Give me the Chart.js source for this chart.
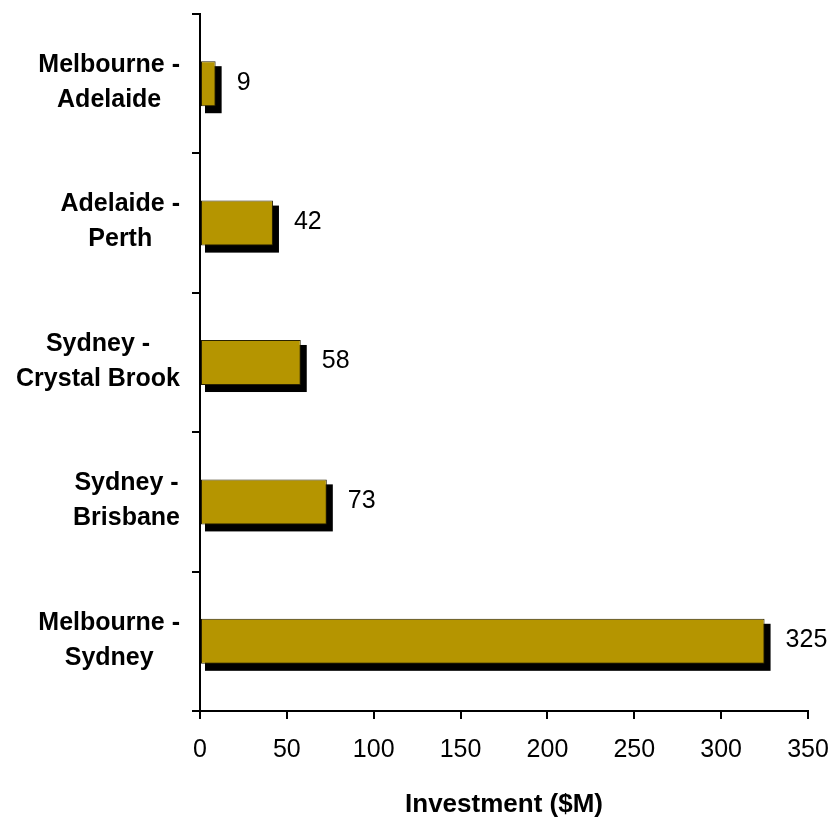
<!DOCTYPE html>
<html>
<head>
<meta charset="utf-8">
<script src="https://cdn.jsdelivr.net/npm/chart.js@4.4.1/dist/chart.umd.min.js"></script>
<style>
  body { margin: 0; background: #ffffff; }
  canvas { display: block; }
</style>
</head>
<body>
<canvas id="routeChart" width="833" height="820"></canvas>
<script>
// routes, top to bottom
var routes = [
    ["Melbourne -", "Adelaide"],
    ["Adelaide -", "Perth"],
    ["Sydney -", "Crystal Brook"],
    ["Sydney -", "Brisbane"],
    ["Melbourne -", "Sydney"]
];
var investment = [9, 42, 58, 73, 325];
var xTicks = [0, 50, 100, 150, 200, 250, 300, 350];

var barColour = '#b59500';
var fontFamily = '"Liberation Sans", Arial, sans-serif';

//BLACK DROP SHADOW BEHIND EACH BAR
var barShadow = {
    id: 'barShadow',
    beforeDatasetsDraw: function(chart) {
        var c = chart.ctx;
        var meta = chart.getDatasetMeta(0);
        c.save();
        c.fillStyle = '#000000';
        meta.data.forEach(function(bar) {
            var p = bar.getProps(['x', 'y', 'base', 'height'], true);
            var top = p.y - p.height / 2;
            c.fillRect(p.base + 4, top + 5, p.x - p.base + 2, p.height + 2);
        });
        c.restore();
    }
};

//VALUE NEXT TO EACH BAR
var barValues = {
    id: 'barValues',
    afterDatasetsDraw: function(chart) {
        var c = chart.ctx;
        var meta = chart.getDatasetMeta(0);
        c.save();
        c.fillStyle = '#000000';
        c.font = '25px ' + fontFamily;
        c.textAlign = 'left';
        c.textBaseline = 'middle';
        meta.data.forEach(function(bar, i) {
            var p = bar.getProps(['x', 'y'], true);
            c.fillText(String(investment[i]), p.x + 21, p.y - 1);
        });
        c.restore();
    }
};

//ROUTE NAMES: BLOCK RIGHT-ALIGNED, LINES CENTRED IN THE BLOCK
var routeLabels = {
    id: 'routeLabels',
    afterDraw: function(chart) {
        var c = chart.ctx;
        var yScale = chart.scales.y;
        var rightEdge = yScale.right - 20;
        var lineGap = 35;
        c.save();
        c.fillStyle = '#000000';
        c.font = 'bold 25px ' + fontFamily;
        c.textAlign = 'center';
        c.textBaseline = 'middle';
        routes.forEach(function(lines, i) {
            var widest = 0;
            lines.forEach(function(t) {
                widest = Math.max(widest, c.measureText(t).width);
            });
            var cx = rightEdge - widest / 2;
            var cy = yScale.getPixelForTick(i) - 1;
            var startY = cy - (lines.length - 1) * lineGap / 2;
            lines.forEach(function(t, j) {
                c.fillText(t, cx, startY + j * lineGap);
            });
        });
        c.restore();
    }
};

var ctx = document.getElementById("routeChart").getContext('2d');
var routeChart = new Chart(ctx, {
    type: 'bar',
    data: {
        labels: routes,
        datasets: [{
            data: investment,
            backgroundColor: barColour,
            borderColor: '#2a2200',
            borderWidth: 1,
            borderSkipped: false,
            barPercentage: 0.9,
            categoryPercentage: 0.359
        }]
    },
    plugins: [barShadow, barValues, routeLabels],
    options: {
        indexAxis: 'y',
        animation: false,
        responsive: false,
        layout: {
            padding: { top: 14, right: 25, left: 0, bottom: 0 }
        },
        plugins: {
            legend: { display: false },
            tooltip: { enabled: false }
        },
        scales: {
            x: {
                min: 0,
                max: 350,
                afterBuildTicks: function(scale) {
                    scale.ticks = xTicks.map(function(v) { return { value: v }; });
                },
                afterFit: function(scale) {
                    scale.height = 109;
                    scale.paddingLeft = 0;
                    scale.paddingRight = 0;
                },
                border: { color: '#000000', width: 2 },
                grid: {
                    drawOnChartArea: false,
                    drawTicks: true,
                    tickLength: 8,
                    color: '#000000',
                    lineWidth: 2
                },
                ticks: {
                    color: '#000000',
                    padding: 16,
                    maxRotation: 0,
                    font: { family: fontFamily, size: 25 }
                },
                title: {
                    display: true,
                    text: 'Investment ($M)',
                    color: '#000000',
                    padding: { top: 0, bottom: 0 },
                    font: { family: fontFamily, size: 26, weight: 'bold' }
                }
            },
            y: {
                afterFit: function(scale) { scale.width = 200; },
                border: { color: '#000000', width: 2 },
                grid: {
                    offset: true,
                    drawOnChartArea: false,
                    drawTicks: true,
                    tickLength: 8,
                    color: '#000000',
                    lineWidth: 2
                },
                ticks: { display: false }
            }
        }
    }
});
</script>
</body>
</html>
